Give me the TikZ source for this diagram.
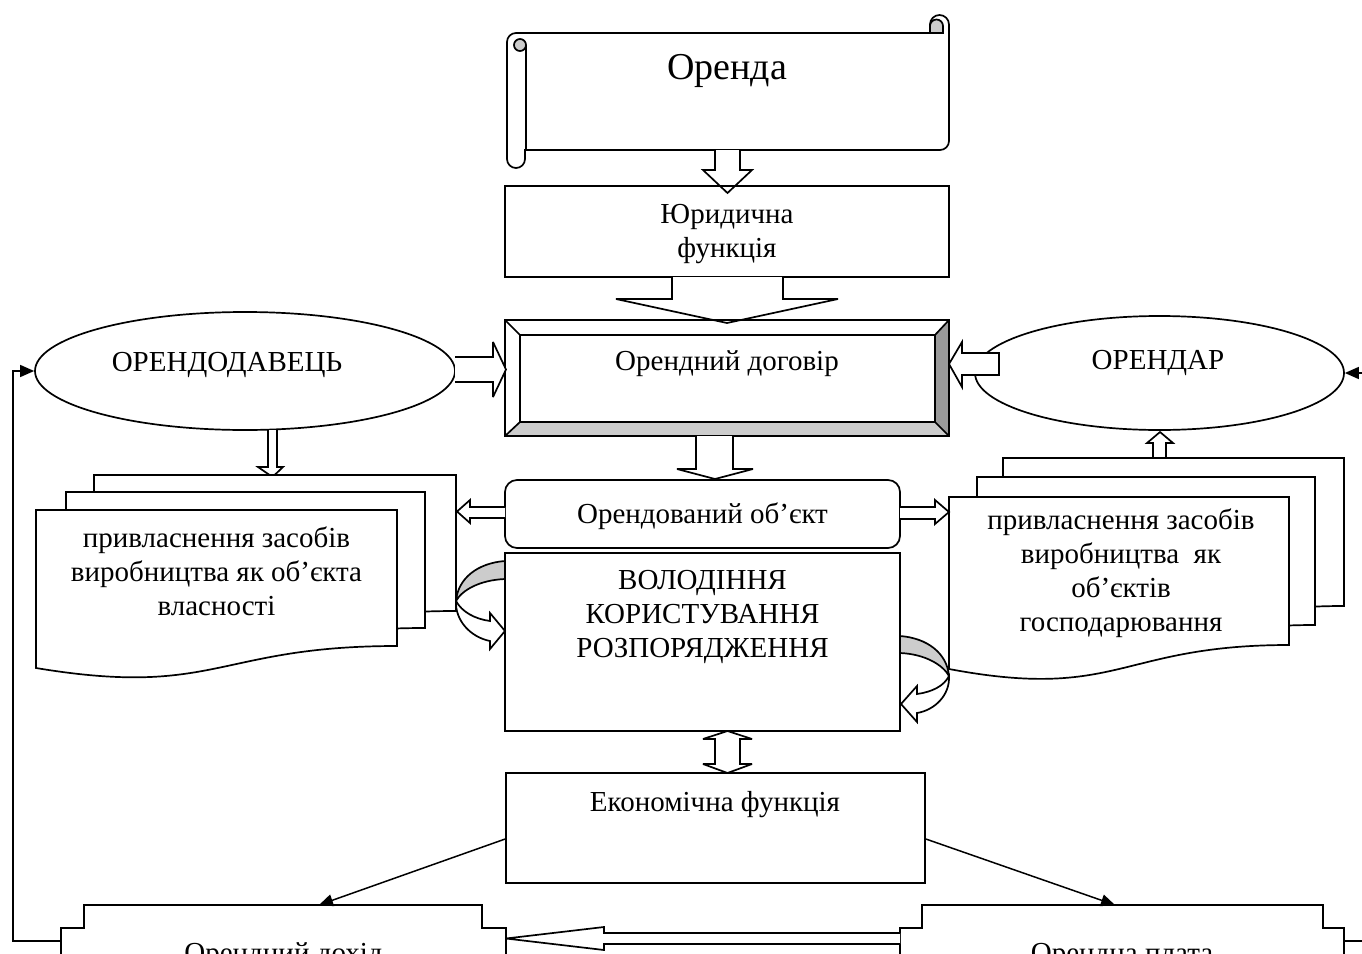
\documentclass[tikz,border=0pt]{standalone}
\usepackage{fontspec}
\setmainfont{Liberation Serif}
\usetikzlibrary{arrows.meta,shapes.geometric}
\definecolor{bevdark}{gray}{0.6}
\definecolor{bevlight}{gray}{0.8}
\newcommand{\mfs}{\fontsize{29}{34}\selectfont}
\newcommand{\bigfs}{\fontsize{38}{44}\selectfont}
\begin{document}
\begin{tikzpicture}[x=1pt,y=-1pt,
  ln/.style={line width=1.7pt,line join=miter,miter limit=4},
  blk/.style={ln,fill=white},
  boxs/.style={draw,ln,inner sep=0pt},
  txt/.style={font=\mfs,align=center,inner sep=0pt},
  ptr/.style={line width=1.5pt,-{Triangle[length=14pt,width=12pt]}},
  grayband/.style={ln,fill=bevlight},
]
\useasboundingbox (0,0) rectangle (1362,953);
\clip (0,0) rectangle (1362,953);

% ---------- scroll "Оренда"
\draw[blk] (516,33) -- (930,33) -- (930,24.5) arc[start angle=180,end angle=360,radius=9.5]
  -- (949,141) arc[start angle=0,end angle=90,radius=9] -- (525,150) -- (525,159)
  arc[start angle=0,end angle=180,radius=9] -- (507,42) arc[start angle=180,end angle=270,radius=9] -- cycle;
\filldraw[ln,fill=bevlight] (930,26) arc[start angle=180,end angle=360,radius=6.5] -- (943,33) -- (930,33) -- cycle;
\filldraw[ln,fill=bevlight] (520,45) circle[radius=6];
\draw[ln] (526,45) -- (526,150);
\node[font=\bigfs,inner sep=0pt] (orenda) at (727,71) {Оренда};

% ---------- arrow scroll -> legal function
\draw[blk] (715,150) -- (715,170) -- (703,170) -- (727.5,193) -- (752,170) -- (740,170) -- (740,150);
\node[boxs,minimum width=444,minimum height=91] (jur) at (727,231.5) {};
\node[txt] (jurT) at (727,234) {Юридична\\функція};

% ---------- contract (bevel box)
\node[minimum width=444,minimum height=116,inner sep=0pt] (dog) at (727,378) {};
\fill[white] (505,320) -- (949,320) -- (935,335) -- (520,335) -- cycle;
\fill[white] (505,320) -- (520,335) -- (520,422) -- (505,436) -- cycle;
\fill[bevdark] (949,320) -- (949,436) -- (935,422) -- (935,335) -- cycle;
\fill[bevlight] (505,436) -- (949,436) -- (935,422) -- (520,422) -- cycle;
\draw[blk] (672,277) -- (672,299) -- (616,299) -- (727,323) -- (838,299) -- (783,299) -- (783,277);
\draw[ln] (505,320) rectangle (949,436);
\draw[ln] (520,335) rectangle (935,422);
\draw[ln] (505,320) -- (520,335) (949,320) -- (935,335) (949,436) -- (935,422) (505,436) -- (520,422);
\node[txt] (dogT) at (727,364) {Орендний договір};

% ---------- lessor / lessee
\node[draw,ln,ellipse,minimum width=420,minimum height=118,inner sep=0pt] (lessor) at (245,371) {};
\node[txt] (lessorT) at (227,365) {ОРЕНДОДАВЕЦЬ};
\node[draw,ln,ellipse,minimum width=369,minimum height=114,inner sep=0pt] (lessee) at (1159.5,373) {};
\node[txt] (lesseeT) at (1158,363) {ОРЕНДАР};
\draw[blk] (455,357) -- (493,357) -- (493,342) -- (506,369.5) -- (493,397) -- (493,382) -- (455,382);
\draw[blk] (999,353) -- (962,353) -- (962,342) -- (949,364) -- (962,387) -- (962,375) -- (999,375) -- cycle;

% ---------- contract -> object
\draw[blk] (696,436) -- (696,469) -- (677,469) -- (715,479) -- (753,469) -- (733,469) -- (733,436);
% lessor -> left documents
\draw[blk] (268,430) -- (268,467) -- (258,467) -- (272.5,477) -- (283,467) -- (277,467) -- (277,430);
% right documents -> lessee
\draw[blk] (1153,459) -- (1153,443) -- (1147,443) -- (1160,432) -- (1173,443) -- (1166,443) -- (1166,459);

% ---------- left document stack
\draw[blk] (94,475) -- (456,475) -- (456,611) .. controls (275,611) and (275,663) .. (94,633) -- cycle;
\draw[blk] (66,492) -- (425,492) -- (425,628) .. controls (245.5,628) and (245.5,680) .. (66,650) -- cycle;
\draw[blk] (36,510) -- (397,510) -- (397,646) .. controls (216.5,646) and (216.5,698) .. (36,668) -- cycle;
\node[txt] (docL) at (216.5,571) {привласнення засобів\\виробництва як об’єкта\\власності};

% ---------- right document stack
\draw[blk] (1003,458) -- (1344,458) -- (1344,606) .. controls (1173.5,606) and (1173.5,662) .. (1003,630) -- cycle;
\draw[blk] (977,477) -- (1315,477) -- (1315,625) .. controls (1146,625) and (1146,681) .. (977,649) -- cycle;
\draw[blk] (949,497) -- (1289,497) -- (1289,645) .. controls (1119,645) and (1119,701) .. (949,669) -- cycle;
\node[txt] (docR) at (1121,573.5) {привласнення засобів\\виробництва\ \ як\\об’єктів\\господарювання};

% ---------- object and rights
\node[boxs,rounded corners=12,minimum width=395,minimum height=68] (obj) at (702.5,514) {};
\node[txt] (objT) at (702.5,516) {Орендований об’єкт};
\node[boxs,minimum width=395,minimum height=178] (vol) at (702.5,642) {};
\node[txt] (volT) at (702.5,617) {ВОЛОДІННЯ\\КОРИСТУВАННЯ\\РОЗПОРЯДЖЕННЯ};
\draw[blk] (505,507) -- (470,507) -- (470,500) -- (457,511.5) -- (470,523) -- (470,518) -- (505,518);
\draw[blk] (900,507) -- (935,507) -- (935,500) -- (949,512) -- (935,524) -- (935,519) -- (900,519);

% curved arrows
\draw[grayband] (505,561) .. controls (478,563) and (458,578) .. (456,601)
  .. controls (462,590) and (480,580) .. (505,579) -- cycle;
\draw[blk] (456,601) .. controls (455,620) and (470,637) .. (490,641) -- (490,649) -- (505,631)
  -- (490,613) -- (490,621) .. controls (475,619) and (462,612) .. (456,601) -- cycle;
\draw[grayband] (900,636) .. controls (927,638) and (947,653) .. (949,676)
  .. controls (943,665) and (925,654) .. (900,653) -- cycle;
\draw[blk] (949,676) .. controls (950,695) and (935,710) .. (917,713) -- (917,722) -- (901,704)
  -- (917,686) -- (917,694) .. controls (932,692) and (944,686) .. (949,676) -- cycle;

% ---------- economic function
\draw[blk] (727.5,731) -- (752,739) -- (740,739) -- (740,764) -- (752,764) -- (727.5,773)
  -- (703,764) -- (715,764) -- (715,739) -- (703,739) -- cycle;
\node[boxs,minimum width=419,minimum height=110] (econ) at (715.5,828) {};
\node[txt] (econT) at (715,805) {Економічна функція};

% ---------- bottom boxes
\draw[ln] (61,960) -- (61,928) -- (84,928) -- (84,905) -- (482,905) -- (482,928) -- (506,928) -- (506,960);
\draw[ln] (900,960) -- (900,928) -- (922,928) -- (922,905) -- (1323,905) -- (1323,928) -- (1344,928) -- (1344,960);
\coordinate (incTop) at (319,905);
\coordinate (rentTop) at (1115,905);
\node[txt,anchor=base] (income) at (283.5,962) {Орендний дохід};
\node[txt,anchor=base] (rent) at (1122,962) {Орендна плата};

\draw[ptr] ([yshift=-11pt]econ.west) -- (incTop);
\draw[ptr] ([yshift=-11pt]econ.east) -- (rentTop);
\draw[blk] (900,933) -- (604,933) -- (604,927) -- (506,938.5) -- (604,950) -- (604,944) -- (900,944);

% feedback lines
\draw[ptr] (61,941) -- (13,941) -- (13,371) -- (lessor.west);
\draw[ptr] (1344,941) -- (1385,941) -- (1385,373) -- (lessee.east);
\end{tikzpicture}
\end{document}
